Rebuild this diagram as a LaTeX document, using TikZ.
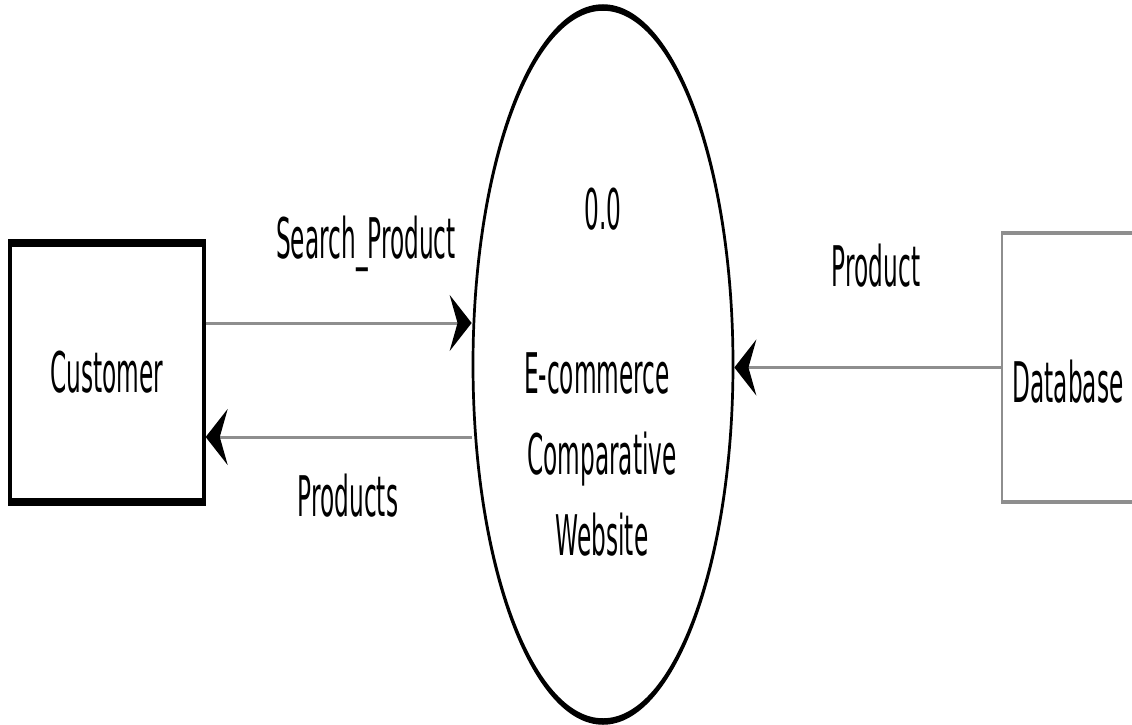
\documentclass[tikz,border=0pt]{standalone}
\usepackage{fontspec}
\setmainfont{DejaVu Sans}
\usetikzlibrary{arrows.meta,shapes.geometric}
\definecolor{flowgray}{HTML}{8E8E8E}
\begin{document}
\begin{tikzpicture}
\useasboundingbox[fill=white] (0,0) rectangle (1132pt,-725pt);
% The whole diagram is drawn wide and then squeezed horizontally on the canvas.
\begin{scope}[transform canvas={xscale=0.415}, x=2.40964pt, y=-1pt,
  txt/.style={font=\fontsize{56}{66}\selectfont},
  lbl/.style={txt, inner sep=0pt, anchor=base},
  flow/.style={draw=flowgray, line width=3pt,
    -{Stealth[length=53pt, width=56pt, inset=19pt, black]}},
  storeline/.style={draw=flowgray, line width=4pt}]

  % external entity
  \node[draw, txt, line width=8pt, minimum width=467.5pt, minimum height=259pt,
        inner sep=0pt] (cust) at (107,372.5) {Customer};

  % process
  \node[draw, ellipse, line width=6.5pt, minimum width=626.5pt, minimum height=714pt,
        inner sep=0pt] (proc) at (603,364.5) {};
  \node[lbl] (pnum) at (603,229) {0.0};
  \node[lbl] (pname1) at (597,393) {E-commerce};
  \node[lbl] (pname2) at (602,474) {Comparative};
  \node[lbl] (pname3) at (602,555) {Website};

  % data store (open on the right)
  \node[minimum width=318pt, minimum height=269pt, inner sep=0pt] (db) at (1068,367.5) {};
  \draw[storeline] (db.north east) -- (db.north west) -- (db.south west) -- (db.south east);
  \node[lbl] (dbname) at (1068,402) {Database};

  % data flows
  \coordinate (sp) at ([yshift=49.5pt]cust.east);
  \draw[flow] (sp) -- (sp -| proc.west);
  \node[lbl] (lsp) at (366,258) {Search\_Product};

  \coordinate (ps) at ([yshift=-64.5pt]cust.east);
  \draw[flow] (ps -| proc.west) -- (ps);
  \node[lbl] (lps) at (348,516) {Products};

  \draw[flow] (db.west) -- (db.west -| proc.east);
  \node[lbl] (lpr) at (876,286) {Product};
\end{scope}
\end{tikzpicture}
\end{document}
